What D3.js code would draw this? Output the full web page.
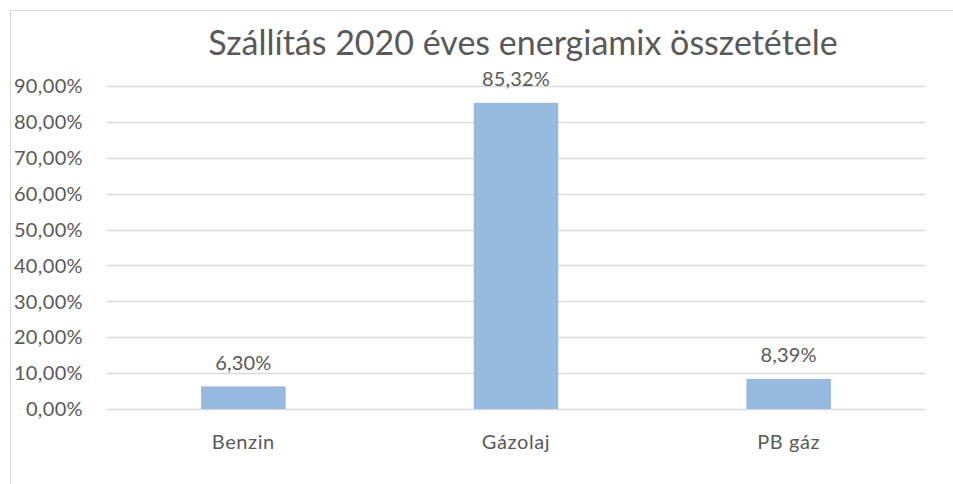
<!DOCTYPE html>
<html><head><meta charset="utf-8">
<script src="https://cdn.jsdelivr.net/npm/d3@7"></script>
<style>body{margin:0;background:#fff}svg{display:block}text{font-family:Lato,"Open Sans",sans-serif;fill:#595959}</style>
</head><body>
<script>
const title = "Szállítás 2020 éves energiamix összetétele";
const categories = ["Benzin", "Gázolaj", "PB gáz"];
const values = [6.30, 85.32, 8.39];
const valueLabels = ["6,30%", "85,32%", "8,39%"];
const yTicks = [0, 10, 20, 30, 40, 50, 60, 70, 80, 90];
const yTickLabels = ["0,00%", "10,00%", "20,00%", "30,00%", "40,00%", "50,00%", "60,00%", "70,00%", "80,00%", "90,00%"];

const W = 953, H = 484;
const svg = d3.select("body").append("svg").attr("width", W).attr("height", H);
// chart border
svg.append("rect").attr("x", 10.5).attr("y", 10.5).attr("width", 960).attr("height", 500)
  .attr("fill", "none").attr("stroke", "#d9d9d9").attr("stroke-width", 1);

const x = d3.scaleBand().domain(categories).range([107, 925]).paddingInner(0.69).paddingOuter(0.345);
const y = d3.scaleLinear().domain([0, 90]).range([409, 86]);

// gridlines
svg.append("g").selectAll("line").data(yTicks).join("line")
  .attr("x1", 107).attr("x2", 925)
  .attr("y1", d => Math.round(y(d)) + 0.5).attr("y2", d => Math.round(y(d)) + 0.5)
  .attr("stroke", "#d9d9d9").attr("stroke-width", 1.3);

// y labels
svg.append("g").selectAll("text").data(yTicks).join("text")
  .attr("x", 83).attr("y", d => y(d)).attr("dy", "0.36em")
  .attr("text-anchor", "end").attr("font-size", 20).attr("letter-spacing", 0.35)
  .text((d, i) => yTickLabels[i]);

// bars
svg.append("g").selectAll("rect").data(values).join("rect")
  .attr("x", (d, i) => x(categories[i])).attr("width", x.bandwidth())
  .attr("y", d => y(d)).attr("height", d => y(0) - y(d))
  .attr("fill", "#97b9e0");

// value labels
svg.append("g").selectAll("text").data(values).join("text")
  .attr("x", (d, i) => x(categories[i]) + x.bandwidth() / 2)
  .attr("y", d => y(d) - 24).attr("dy", "0.36em")
  .attr("text-anchor", "middle").attr("font-size", 20).attr("letter-spacing", 0.2)
  .text((d, i) => valueLabels[i]);

// category labels
svg.append("g").selectAll("text").data(categories).join("text")
  .attr("x", d => x(d) + x.bandwidth() / 2).attr("y", 442).attr("dy", "0.36em")
  .attr("text-anchor", "middle").attr("font-size", 20).attr("letter-spacing", 0.6)
  .text(d => d);

// title
svg.append("text").attr("x", 523).attr("y", 43).attr("dy", "0.36em")
  .attr("text-anchor", "middle").attr("font-size", 34)
  .text(title);
</script>
</body></html>
